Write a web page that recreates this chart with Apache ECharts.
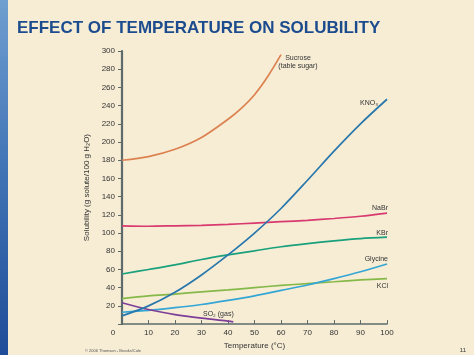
<!DOCTYPE html>
<html>
<head>
<meta charset="utf-8">
<script src="https://cdn.jsdelivr.net/npm/echarts@6/dist/echarts.min.js"></script>
<style>
html,body{margin:0;padding:0;background:#f7edd5;}
#c{width:474px;height:355px;}
</style>
</head>
<body>
<div id="c"></div>
<script>
// Data (temperature °C, solubility g/100 g H2O)
const xTicks = [0,10,20,30,40,50,60,70,80,90,100];
const yTicks = [0,20,40,60,80,100,120,140,160,180,200,220,240,260,280,300];
const sucrose = [[0,180],[10,184],[20,192],[30,205],[40,225],[45,237],[50,252],[55,272],[60,296]];
const kno3 = [[0,9],[10,20],[20,35],[30,54],[40,76],[50,100],[60,127],[70,158],[80,190],[90,220],[100,247]];
const nabr = [[0,108],[10,107.5],[20,108],[30,108.5],[40,109.5],[50,111],[60,112.5],[70,114],[80,116],[90,118.5],[100,122]];
const kbr = [[0,55],[10,60],[20,65],[30,71],[40,76],[50,80.5],[60,85],[70,88.5],[80,91.5],[90,94],[100,95.5]];
const glycine = [[0,13],[10,15],[20,18],[30,21.5],[40,26],[50,31],[60,37],[70,43],[80,50],[90,57.5],[100,66]];
const kcl = [[0,28],[10,31],[20,33],[30,35.5],[40,37.5],[50,40],[60,42.5],[70,44.5],[80,46.5],[90,48.5],[100,50]];
const so2 = [[0,23.5],[10,16],[20,10.5],[30,6.5],[40,3.2],[42,2.5]];

const chart = echarts.init(document.getElementById('c'));
const ff = '"Liberation Sans", Arial, sans-serif';
function line(name, data, color){
  return {name, type:'line', data, smooth:0.3, showSymbol:false, symbol:'none',
    lineStyle:{color, width:1.7}, itemStyle:{color}, z:3};
}
const lbl = (text, x, y, align) => ({type:'text', x, y,
  style:{text, fill:'#333', font:'7px ' + ff, textAlign:align||'right', textVerticalAlign:'middle'}});

chart.setOption({
  backgroundColor:'#f7edd5',
  animation:false,
  grid:{left:122, right:87, top:51, bottom:30, containLabel:false},
  xAxis:{type:'value', min:0, max:100, interval:10,
    name:'Temperature (°C)', nameLocation:'middle', nameGap:15,
    nameTextStyle:{fontSize:8, color:'#333', fontFamily:ff},
    axisLine:{lineStyle:{color:'#5d6b6b', width:1.5}},
    axisTick:{inside:true, length:4, lineStyle:{color:'#5d6b6b'}},
    axisLabel:{fontSize:8, color:'#333', fontFamily:ff, margin:5,
      formatter:v => v===0 ? '{z|0}' : String(v),
      rich:{z:{fontSize:8, color:'#333', fontFamily:ff, padding:[0,18,0,0]}}},
    splitLine:{show:false}},
  yAxis:{type:'value', min:0, max:300, interval:20,
    name:'Solubility (g solute/100 g H₂O)', nameLocation:'middle', nameGap:20,
    nameTextStyle:{fontSize:8, color:'#333', fontFamily:ff},
    axisLine:{show:true, lineStyle:{color:'#5d6b6b', width:2.2}},
    axisTick:{show:true, length:4, lineStyle:{color:'#5d6b6b'}},
    axisLabel:{fontSize:8, color:'#333', fontFamily:ff, margin:7,
      formatter:v => v===0 ? '' : String(v)},
    splitLine:{show:false}},
  series:[
    line('Sucrose', sucrose, '#dc8150'),
    line('NaBr', nabr, '#d8396f'),
    line('KBr', kbr, '#19a07c'),
    line('KCl', kcl, '#86b84a'),
    line('Glycine', glycine, '#34a6d6'),
    line('SO2', so2, '#7d3f98'),
    line('KNO3', kno3, '#2877ad')
  ],
  graphic:[
    {type:'rect', left:0, top:0, shape:{width:8, height:355},
      style:{fill:new echarts.graphic.LinearGradient(0,0,0,1,[{offset:0,color:'#6f9ed0'},{offset:0.5,color:'#3f72b4'},{offset:1,color:'#1f4c98'}])}},
    {type:'text', x:17, y:28, style:{text:'EFFECT OF TEMPERATURE ON SOLUBILITY', fill:'#1c4c8e',
      font:'bold 17px ' + ff, textVerticalAlign:'middle'}},
    {type:'text', x:298, y:62, style:{text:'Sucrose\n(table sugar)', fill:'#333', font:'7px ' + ff,
      textAlign:'center', textVerticalAlign:'middle', lineHeight:8}},
    lbl('KNO₃', 378, 103),
    lbl('NaBr', 388, 208),
    lbl('KBr', 388, 233),
    lbl('Glycine', 388, 259),
    lbl('KCl', 388, 286),
    lbl('SO₂ (gas)', 203, 314, 'left'),
    {type:'text', x:85, y:351, style:{text:'© 2006 Thomson - Brooks/Cole', fill:'#555', font:'4px ' + ff, textVerticalAlign:'middle'}},
    {type:'text', x:466, y:350, style:{text:'11', fill:'#333', font:'6px ' + ff, textAlign:'right', textVerticalAlign:'middle'}}
  ]
});
</script>
</body>
</html>
